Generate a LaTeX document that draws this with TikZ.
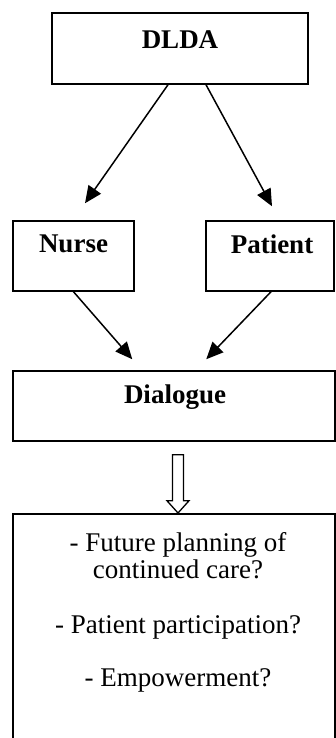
\documentclass[tikz,border=0pt]{standalone}
\usepackage{fontspec}
\setmainfont{Liberation Serif}
\usetikzlibrary{arrows.meta,calc}
\begin{document}
\begin{tikzpicture}[x=1pt,y=-1pt,
  box/.style={draw,line width=1.5pt,inner sep=0pt},
  lbl/.style={font=\fontsize{27}{27}\selectfont\bfseries,inner sep=0pt},
  txt/.style={font=\fontsize{27}{27}\selectfont,inner sep=0pt,align=center},
  conn/.style={line width=1.5pt,-{Triangle[length=17pt,width=15pt]}}]
\useasboundingbox (0,0) rectangle (336,738);
\clip (0,0) rectangle (336,738);
% boxes
\node[box,minimum width=256pt,minimum height=71pt] (dlda) at (180,48.5) {};
\node[box,minimum width=121pt,minimum height=70pt] (nurse) at (73.5,256) {};
\node[box,minimum width=128pt,minimum height=70pt] (patient) at (270,256) {};
\node[box,minimum width=322pt,minimum height=70pt] (dialogue) at (174,406) {};
\node[box,minimum width=322pt,minimum height=260pt,anchor=north] (out) at (174,513) {};
% labels
\node[lbl] (tdlda) at (180,40) {DLDA};
\node[lbl] (tnurse) at (73.5,244) {Nurse};
\node[lbl] (tpatient) at (272,244) {Patient};
\node[lbl] (tdialogue) at (175,397) {Dialogue};
\node[txt] (q1) at (178,556) {- Future planning of\\continued care?};
\node[txt] (q2) at (178,627) {- Patient participation?};
\node[txt] (q3) at (178,680) {- Empowerment?};
% connector end points
\coordinate (a1) at ($(dlda.south)+(-12,0)$);
\coordinate (a2) at ($(dlda.south)+(26,0)$);
\coordinate (n1) at ($(nurse.north)+(11.5,-17)$);
\coordinate (p1) at ($(patient.north)+(2,-14)$);
\coordinate (n2) at ($(nurse.south)+(0,0)$);
\coordinate (p2) at ($(patient.south)+(1,0)$);
\coordinate (d1) at ($(dialogue.north west)+(120,-11)$);
\coordinate (d2) at ($(dialogue.north west)+(194,-11)$);
\draw[conn] (a1) -- (n1);
\draw[conn] (a2) -- (p1);
\draw[conn] (n2) -- (d1);
\draw[conn] (p2) -- (d2);
% hollow arrow
\coordinate (h0) at ($(dialogue.south)+(4,13)$);
\draw[line width=1.3pt,fill=white,line join=miter]
  ($(h0)+(-5.5,0)$) -- ($(h0)+(5.5,0)$) -- ($(h0)+(5.5,46)$) -- ($(h0)+(11,46)$)
  -- (out.north -| h0) -- ($(h0)+(-11,46)$) -- ($(h0)+(-5.5,46)$) -- cycle;
\end{tikzpicture}
\end{document}
